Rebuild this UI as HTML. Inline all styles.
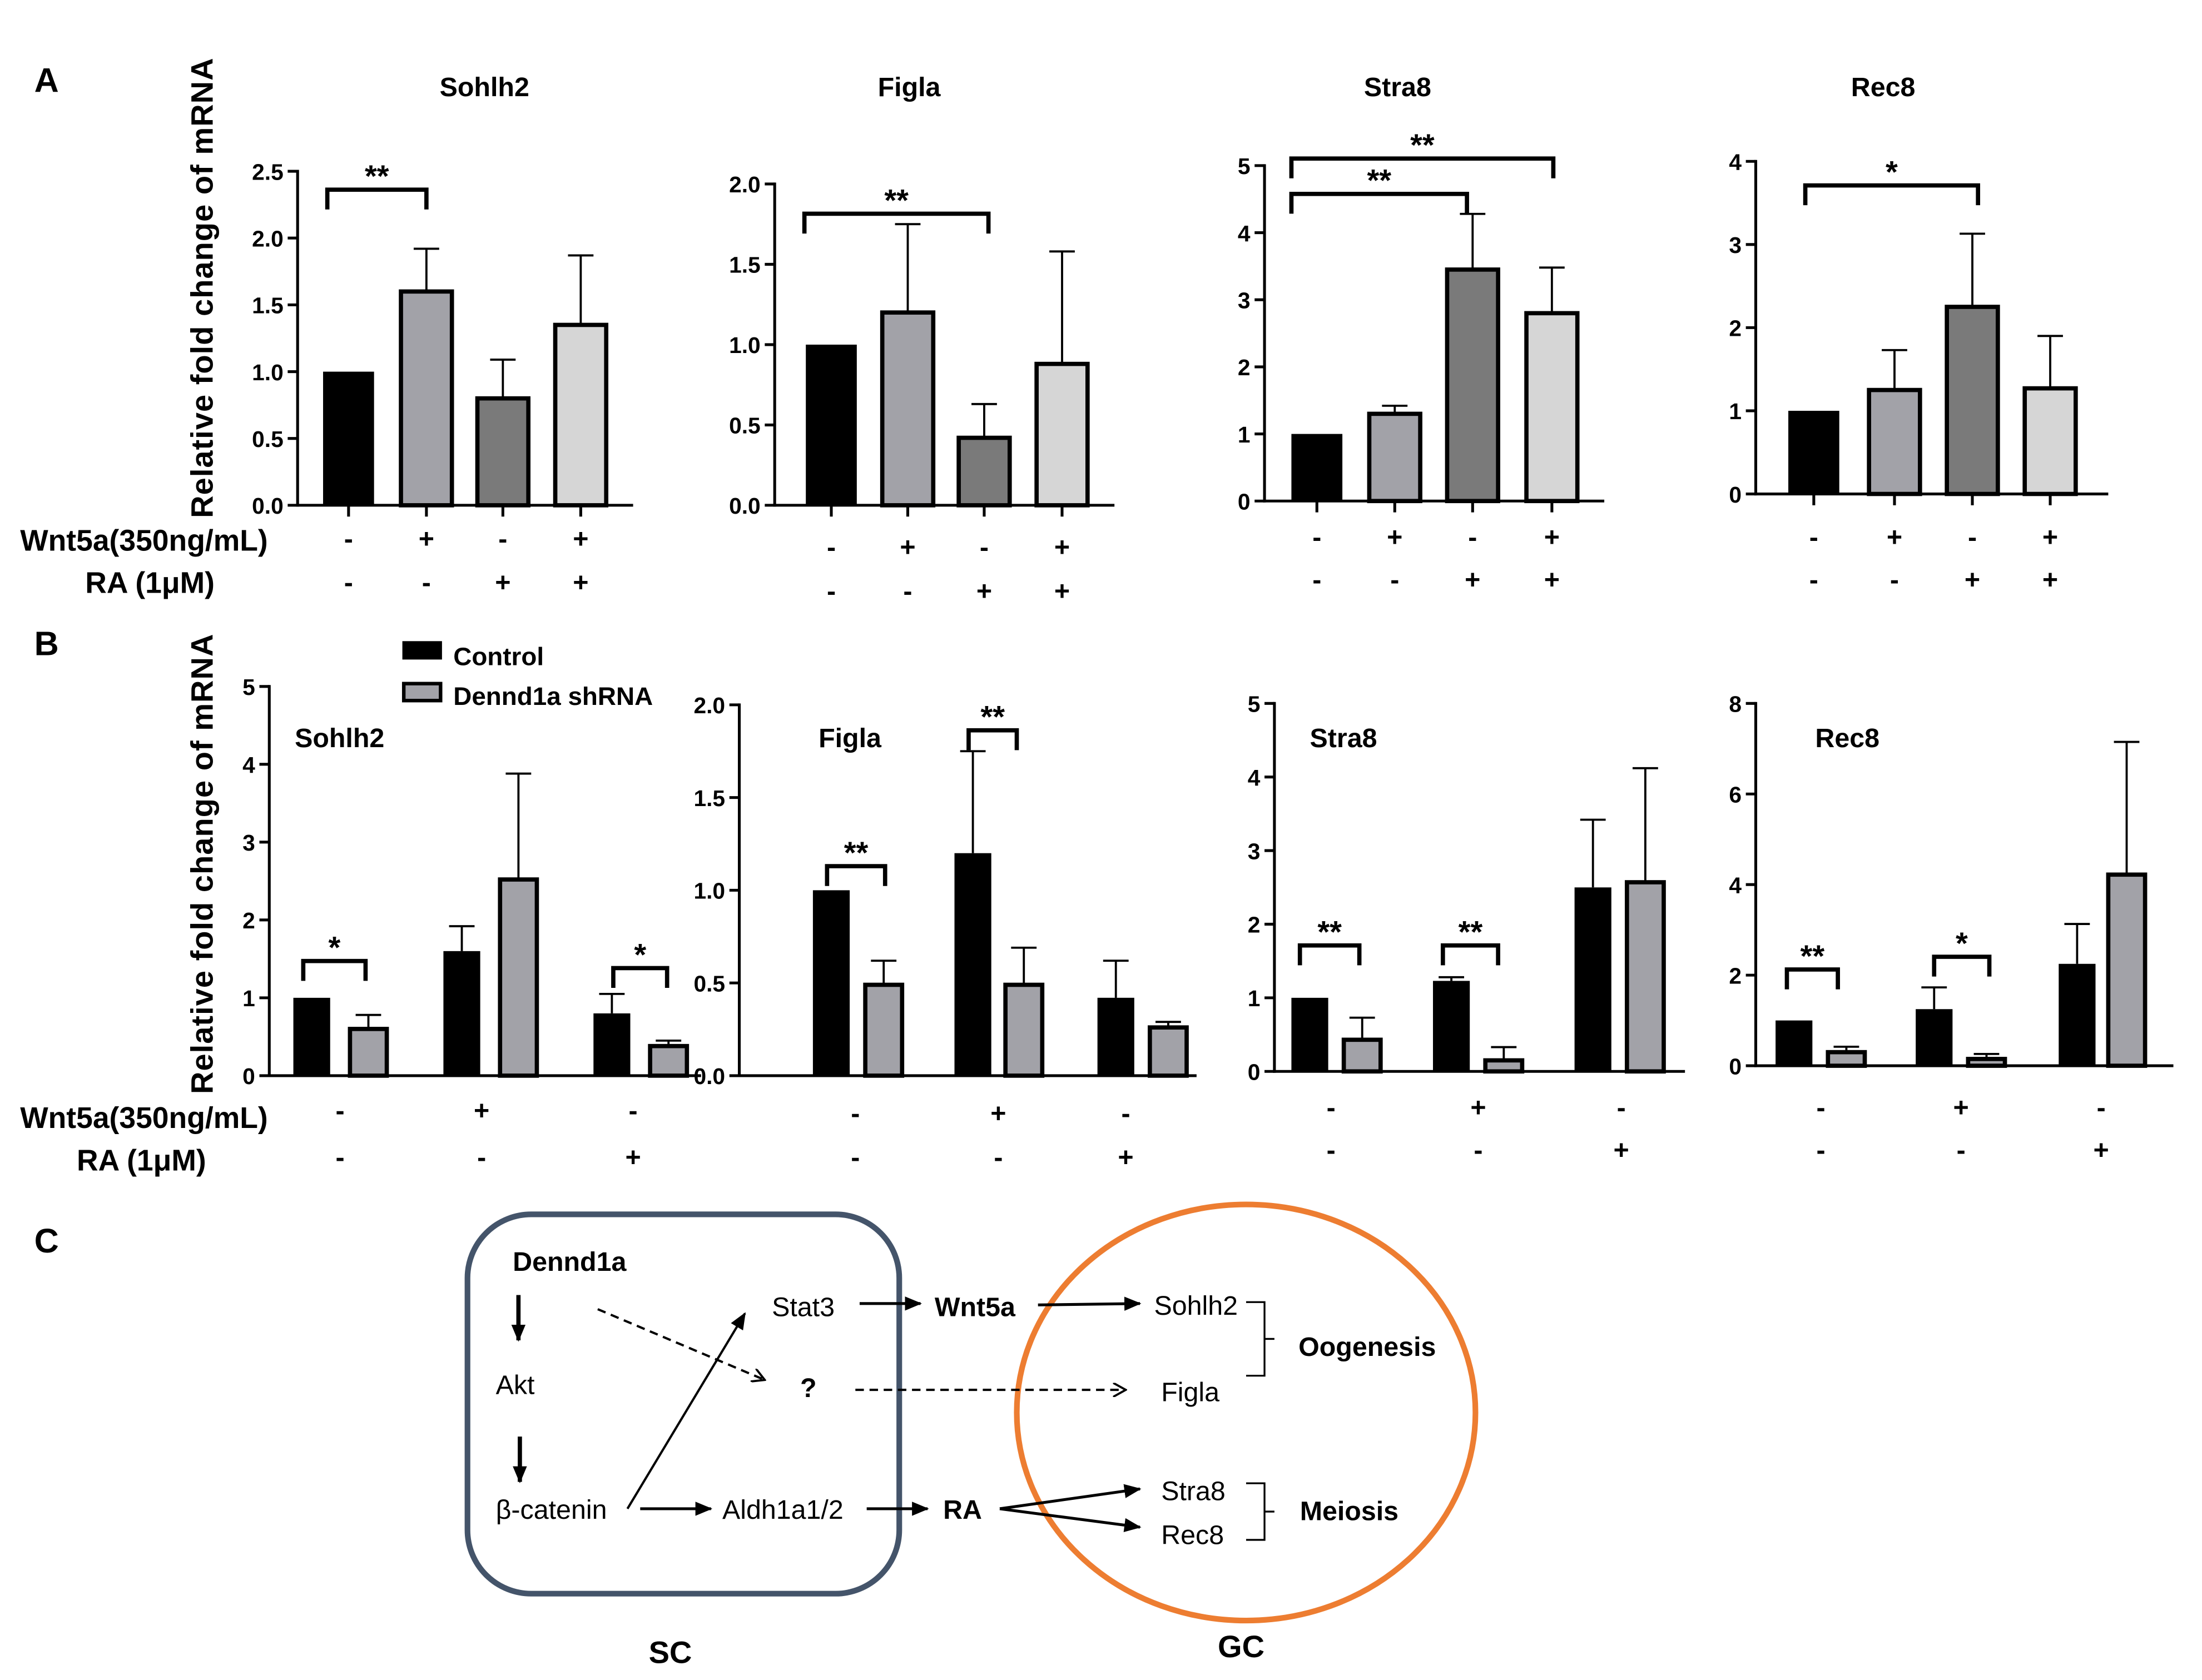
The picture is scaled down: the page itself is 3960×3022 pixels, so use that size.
<!DOCTYPE html>
<html><head><meta charset="utf-8"><style>
html,body{margin:0;padding:0;background:#fff;overflow:hidden}
svg{display:block}
text{font-family:"Liberation Sans",sans-serif;fill:#000}
</style></head><body>
<svg id="fig" width="3960" height="3022" viewBox="0 0 1555 1187" xmlns="http://www.w3.org/2000/svg">
<g id="charts"></g>
<g id="diagram">
 <text x="24" y="885" font-size="24" font-weight="bold">C</text>
 <rect x="330" y="858" width="305" height="268" rx="45" fill="none" stroke="#44546a" stroke-width="4"/>
 <ellipse cx="880" cy="998" rx="162" ry="147" fill="none" stroke="#ed7d31" stroke-width="4"/>
 <defs><marker id="ah" markerUnits="userSpaceOnUse" markerWidth="12" markerHeight="10" refX="11" refY="5" orient="auto"><path d="M0,0 L12,5 L0,10 z" fill="#000"/></marker>
 <marker id="ao" markerUnits="userSpaceOnUse" markerWidth="10" markerHeight="10" refX="9" refY="5" orient="auto"><path d="M0,0 L9,5 L0,10" fill="none" stroke="#000" stroke-width="1.5"/></marker></defs>
 <g font-size="19">
 <text x="362" y="898" font-weight="bold">Dennd1a</text>
 <text x="350" y="985">Akt</text>
 <text x="350" y="1073">β-catenin</text>
 <text x="545" y="930">Stat3</text>
 <text x="565" y="987" font-weight="bold">?</text>
 <text x="510" y="1073">Aldh1a1/2</text>
 <text x="660" y="930" font-weight="bold">Wnt5a</text>
 <text x="666" y="1073" font-weight="bold">RA</text>
 <text x="815" y="929">Sohlh2</text>
 <text x="820" y="990">Figla</text>
 <text x="820" y="1060">Stra8</text>
 <text x="820" y="1091">Rec8</text>
 <text x="917" y="958" font-weight="bold">Oogenesis</text>
 <text x="918" y="1074" font-weight="bold">Meiosis</text>
 <text x="458" y="1175" font-size="22" font-weight="bold">SC</text>
 <text x="860" y="1171" font-size="22" font-weight="bold">GC</text>
 </g>
 <g stroke="#000" fill="none">
 <line x1="366" y1="915" x2="366" y2="947" stroke-width="3" marker-end="url(#ah)"/>
 <line x1="367" y1="1015" x2="367" y2="1047" stroke-width="3" marker-end="url(#ah)"/>
 <line x1="422" y1="925" x2="540" y2="975" stroke-width="1.6" stroke-dasharray="6,4" marker-end="url(#ao)"/>
 <line x1="443" y1="1066" x2="526" y2="928" stroke-width="1.6" marker-end="url(#ah)"/>
 <line x1="604" y1="982" x2="795" y2="982" stroke-width="1.6" stroke-dasharray="6,4" marker-end="url(#ao)"/>
 <line x1="452" y1="1066" x2="502" y2="1066" stroke-width="2" marker-end="url(#ah)"/>
 <line x1="612" y1="1066" x2="655" y2="1066" stroke-width="2" marker-end="url(#ah)"/>
 <line x1="607" y1="921" x2="650" y2="921" stroke-width="2" marker-end="url(#ah)"/>
 <line x1="733" y1="922" x2="805" y2="921" stroke-width="2" marker-end="url(#ah)"/>
 <line x1="706" y1="1066" x2="805" y2="1052" stroke-width="2" marker-end="url(#ah)"/>
 <line x1="706" y1="1066" x2="805" y2="1079" stroke-width="2" marker-end="url(#ah)"/>
 <path d="M880,920 L893,920 L893,972 L880,972 M893,946 L900,946" stroke-width="1.3"/>
 <path d="M880,1048 L893,1048 L893,1088 L880,1088 M893,1068 L900,1068" stroke-width="1.3"/>
 </g>
</g>
</svg>
<script>
// ---------- Panel A data ----------
const aTitles = ["Sohlh2","Figla","Stra8","Rec8"];
const aSohlh2 = [1.0,1.6,0.8,1.35];
const aSohlh2Err = [1.0,1.92,1.09,1.87];
const aFigla = [1.0,1.2,0.42,0.88];
const aFiglaErr = [1.0,1.75,0.63,1.58];
const aStra8 = [1.0,1.3,3.45,2.8];
const aStra8Err = [1.0,1.42,4.28,3.48];
const aRec8 = [1.0,1.25,2.25,1.27];
const aRec8Err = [1.0,1.73,3.13,1.9];
const aTicks0 = ["0.0","0.5","1.0","1.5","2.0","2.5"];
const aTicks1 = ["0.0","0.5","1.0","1.5","2.0"];
const aTicks2 = ["0","1","2","3","4","5"];
const aTicks3 = ["0","1","2","3","4"];
const aWnt = ["-","+","-","+"];
const aRA = ["-","-","+","+"];
// ---------- Panel B data ----------
const bTitles = ["Sohlh2","Figla","Stra8","Rec8"];
const bSohlh2Ctrl = [1.0,1.6,0.8], bSohlh2CtrlErr=[1.0,1.92,1.05];
const bSohlh2Sh = [0.6,2.52,0.38], bSohlh2ShErr=[0.78,3.88,0.45];
const bFiglaCtrl = [1.0,1.2,0.42], bFiglaCtrlErr=[1.0,1.75,0.62];
const bFiglaSh = [0.49,0.49,0.26], bFiglaShErr=[0.62,0.69,0.29];
const bStra8Ctrl = [1.0,1.23,2.5], bStra8CtrlErr=[1.0,1.28,3.42];
const bStra8Sh = [0.43,0.15,2.57], bStra8ShErr=[0.73,0.33,4.12];
const bRec8Ctrl = [1.0,1.25,2.25], bRec8CtrlErr=[1.0,1.73,3.13];
const bRec8Sh = [0.3,0.15,4.22], bRec8ShErr=[0.42,0.26,7.15];
const bTicks0=["0","1","2","3","4","5"];
const bTicks1=["0.0","0.5","1.0","1.5","2.0"];
const bTicks2=["0","1","2","3","4","5"];
const bTicks3=["0","2","4","6","8"];
const bWnt=["-","+","-"];
const bRA=["-","-","+"];

const NS="http://www.w3.org/2000/svg";
const root=document.getElementById('charts');
function mk(tag,attrs,parent,txt){const e=document.createElementNS(NS,tag);for(const k in attrs)e.setAttribute(k,attrs[k]);if(txt!==undefined)e.textContent=txt;(parent||root).appendChild(e);return e;}

function axis(g,x0,y0,yTop,xEnd,ticks){
  const max=parseFloat(ticks[ticks.length-1]);
  const y=v=>y0-(v/max)*(y0-yTop);
  const yl=mk('line',{x1:x0,y1:y0+1,x2:x0,y2:yTop-1,stroke:'#000','stroke-width':2},g);
  
  
  const xl=mk('line',{x1:x0-1,y1:y0,x2:xEnd,y2:y0,stroke:'#000','stroke-width':2},g);
  
  
  ticks.forEach(t=>{const v=parseFloat(t);
    mk('line',{x1:x0-7,y1:y(v),x2:x0,y2:y(v),stroke:'#000','stroke-width':2},g);
    const tx=mk('text',{x:x0-10,y:y(v)+6,'font-size':16,'font-weight':'bold','text-anchor':'end'},g,t);
    
    
  });
  return y;
}
function bar(g,cx,w,v,e,y,y0,fill,outline){
  const r=mk('rect',{x:cx-w/2,y:y(v),width:w,height:y0-y(v),fill:fill,stroke:outline?'#000':'none','stroke-width':outline?3:0},g);
  
  
  if(e>v+0.001){mk('line',{x1:cx,y1:y(v),x2:cx,y2:y(e),stroke:'#000','stroke-width':1.5},g);
    mk('line',{x1:cx-9,y1:y(e),x2:cx+9,y2:y(e),stroke:'#000','stroke-width':1.5},g);}
}
function bracket(g,x1,x2,yy,stars,size){
  mk('path',{d:`M${x1},${yy+14} L${x1},${yy} L${x2},${yy} L${x2},${yy+14}`,fill:'none',stroke:'#000','stroke-width':3},g);
  const t=mk('text',{x:(x1+x2)/2,y:yy-2,'font-size':size||22,'font-weight':'bold','text-anchor':'middle'},g,stars);
  
  
}
function signs(g,xs,arr,yy,name){arr.forEach((s,i)=>{const t=mk('text',{x:xs[i],y:yy,'font-size':19,'font-weight':'bold','text-anchor':'middle'},g,s);
  
  });}

// Panel A
const aFills=['#000','#a2a2a8','#7a7a7a','#d6d6d6'];
const aCfg=[
 {x0:210,y0:357,yTop:121,xEnd:447,xs:[246,301,355,410],tcx:342,ty:68,vals:aSohlh2,errs:aSohlh2Err,ticks:aTicks0,r1:387,r2:418},
 {x0:547,y0:357,yTop:130,xEnd:787,xs:[587,641,695,750],tcx:642,ty:68,vals:aFigla,errs:aFiglaErr,ticks:aTicks1,r1:393,r2:424},
 {x0:893,y0:354,yTop:117,xEnd:1133,xs:[930,985,1040,1096],tcx:987,ty:68,vals:aStra8,errs:aStra8Err,ticks:aTicks2,r1:386,r2:416},
 {x0:1240,y0:349,yTop:114,xEnd:1489,xs:[1281,1338,1393,1448],tcx:1330,ty:68,vals:aRec8,errs:aRec8Err,ticks:aTicks3,r1:386,r2:416}];
aCfg.forEach((c,k)=>{
  const g=mk('g',{});
  
  
  const t=mk('text',{x:c.tcx,y:c.ty,'font-size':19,'font-weight':'bold','text-anchor':'middle'},g,aTitles[k]);
  
  
  const y=axis(g,c.x0,c.y0,c.yTop,c.xEnd,c.ticks);
  c.vals.forEach((v,i)=>{bar(g,c.xs[i],36,v,c.errs[i],y,c.y0,aFills[i],i>0);
    mk('line',{x1:c.xs[i],y1:c.y0,x2:c.xs[i],y2:c.y0+8,stroke:'#000','stroke-width':2},g);});
  signs(g,c.xs,aWnt,c.r1,'wnt5a-sign');signs(g,c.xs,aRA,c.r2,'ra-sign');
});
bracket(root,231,301,134,'**');
bracket(root,568,698,151,'**');
bracket(root,912,1036,137,'**');
bracket(root,912,1097,112,'**');
bracket(root,1275,1397,131,'*');

// Panel B
const bCfg=[
 {x0:190,y0:760,yTop:485,xEnd:495,c:[220,326,432],s:[260,366,472],lab:[240,340,447],title:'Sohlh2',tx:208,ty:528,cv:bSohlh2Ctrl,ce:bSohlh2CtrlErr,sv:bSohlh2Sh,se:bSohlh2ShErr,ticks:bTicks0,r1:791,r2:824},
 {x0:522,y0:760,yTop:498,xEnd:845,c:[587,687,788],s:[624,723,825],lab:[604,705,795],title:'Figla',tx:578,ty:528,cv:bFiglaCtrl,ce:bFiglaCtrlErr,sv:bFiglaSh,se:bFiglaShErr,ticks:bTicks1,r1:793,r2:824},
 {x0:900,y0:757,yTop:497,xEnd:1190,c:[925,1025,1125],s:[962,1062,1162],lab:[940,1044,1145],title:'Stra8',tx:925,ty:528,cv:bStra8Ctrl,ce:bStra8CtrlErr,sv:bStra8Sh,se:bStra8ShErr,ticks:bTicks2,r1:789,r2:819},
 {x0:1240,y0:753,yTop:497,xEnd:1535,c:[1267,1366,1467],s:[1304,1403,1502],lab:[1286,1385,1484],title:'Rec8',tx:1282,ty:528,cv:bRec8Ctrl,ce:bRec8CtrlErr,sv:bRec8Sh,se:bRec8ShErr,ticks:bTicks3,r1:789,r2:819}];
bCfg.forEach((c,k)=>{
  const g=mk('g',{});
  
  
  const t=mk('text',{x:c.tx,y:c.ty,'font-size':19,'font-weight':'bold'},g,c.title);
  
  
  const y=axis(g,c.x0,c.y0,c.yTop,c.xEnd,c.ticks);
  c.cv.forEach((v,i)=>{bar(g,c.c[i],26,v,c.ce[i],y,c.y0,'#000',false);bar(g,c.s[i],26,c.sv[i],c.se[i],y,c.y0,'#a2a2a8',true);});
  signs(g,c.lab,bWnt,c.r1,'wnt5a-sign');signs(g,c.lab,bRA,c.r2,'ra-sign');
});
bracket(root,214,258,679,'*');
bracket(root,433,471,684,'*');
bracket(root,584,625,612,'**');
bracket(root,684,718,516,'**');
bracket(root,918,960,668,'**');
bracket(root,1019,1058,668,'**');
bracket(root,1262,1298,685,'**');
bracket(root,1366,1405,676,'*');

// labels
function txt(x,y,s,size,name,extra){const t=mk('text',Object.assign({x:x,y:y,'font-size':size,'font-weight':'bold'},extra||{}),root,s);
 
 return t;}
txt(24,65,'A',24,'panel-label-a');
txt(24,463,'B',24,'panel-label-b');
txt(150,366,'Relative fold change of mRNA',22,'y-axis-title-a',{transform:'rotate(-90 150 366)',textLength:325});
txt(150,773,'Relative fold change of mRNA',22,'y-axis-title-b',{transform:'rotate(-90 150 773)',textLength:325});
txt(14,389,'Wnt5a(350ng/mL)',21,'wnt5a-row-label-a');
txt(60,419,'RA (1μM)',21,'ra-row-label-a');
txt(14,797,'Wnt5a(350ng/mL)',21,'wnt5a-row-label-b');
txt(54,827,'RA (1μM)',21,'ra-row-label-b');
// legend
const l1=mk('rect',{x:284,y:453,width:28,height:13,fill:'#000'});


const l2=mk('rect',{x:285,y:483,width:26,height:12,fill:'#a2a2a8',stroke:'#000','stroke-width':2.5});


txt(320,470,'Control',18,'legend-control');
txt(320,498,'Dennd1a shRNA',18,'legend-shrna');
</script>
</body></html>
